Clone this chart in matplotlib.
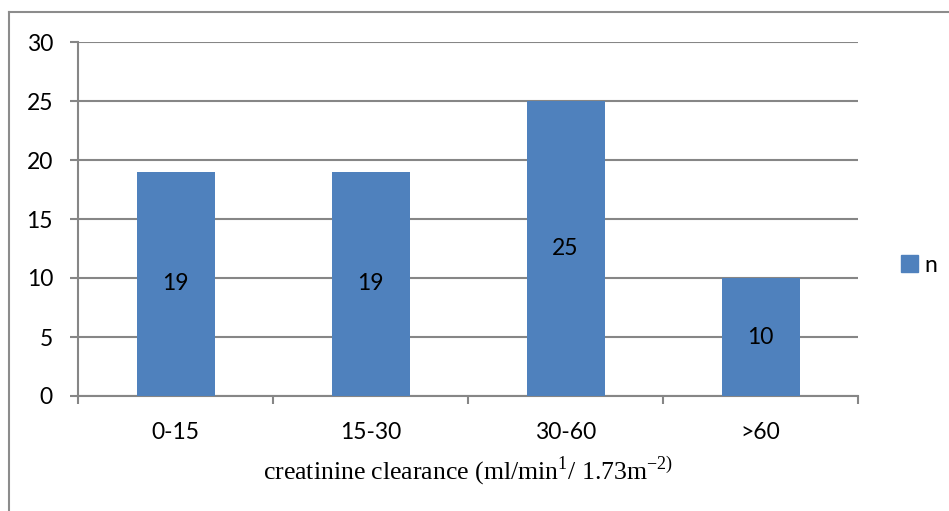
import matplotlib.pyplot as plt
from matplotlib.lines import Line2D
from matplotlib.patches import Patch

categories = ['0-15', '15-30', '30-60', '>60']
counts = [19, 19, 25, 10]
series_name = 'n'
y_ticks = [0, 5, 10, 15, 20, 25, 30]

bar_color = '#4F81BD'
grid_color = '#868686'

plt.rcParams['font.family'] = ['Lato', 'DejaVu Sans']
plt.rcParams['mathtext.fontset'] = 'custom'
plt.rcParams['mathtext.rm'] = 'Liberation Serif'

W, H = 949, 511
fig = plt.figure(figsize=(W / 100, H / 100), dpi=100)

# outer chart frame (cut off at right and bottom)
fig.add_artist(Line2D([8.5 / W, 8.5 / W], [0, 1 - 12 / H], color='#8c8c8c', lw=1.5, transform=fig.transFigure))
fig.add_artist(Line2D([8.5 / W, 1], [1 - 12.5 / H, 1 - 12.5 / H], color='#8c8c8c', lw=1.5, transform=fig.transFigure))

ax = fig.add_axes([78 / W, 1 - 396 / H, 780 / W, 354 / H])

x = range(len(categories))
bars = ax.bar(x, counts, width=0.4, color=bar_color, zorder=3, label=series_name)
for b, v in zip(bars, counts):
    ax.text(b.get_x() + b.get_width() / 2, v / 2, str(v), ha='center', va='center',
            fontsize=16.5, color='black', zorder=4)

ax.set_xlim(-0.5, len(categories) - 0.5)
ax.set_ylim(0, 30)
ax.set_yticks(y_ticks)
ax.yaxis.grid(True, color=grid_color, lw=1.5, zorder=0)
ax.set_axisbelow(True)

ax.set_xticks(list(x))
ax.set_xticklabels(categories)
ax.set_xticks([i - 0.5 for i in range(len(categories) + 1)], minor=True)
ax.tick_params(axis='x', which='major', length=0, pad=19, labelsize=16.5)
ax.tick_params(axis='x', which='minor', length=6, width=1.5, color=grid_color)
ax.tick_params(axis='y', length=6, width=1.5, color=grid_color, pad=12, labelsize=16.5)

for s in ['top', 'right']:
    ax.spines[s].set_visible(False)
for s in ['left', 'bottom']:
    ax.spines[s].set_color(grid_color)
    ax.spines[s].set_linewidth(1.5)

ax.set_xlabel(r'creatinine clearance (ml/min$^{\mathrm{1}}$/ 1.73m$^{\mathrm{-2)}}$',
              family='Liberation Serif', fontsize=18.5, labelpad=8)

ax.legend(handles=[Patch(color=bar_color, label=series_name)], loc='center left',
          bbox_to_anchor=(1.055, 0.37), frameon=False, fontsize=16.5,
          borderaxespad=0, borderpad=0,
          handlelength=0.73, handleheight=0.73, handletextpad=0.3)

fig.savefig('out.png', dpi=100)
